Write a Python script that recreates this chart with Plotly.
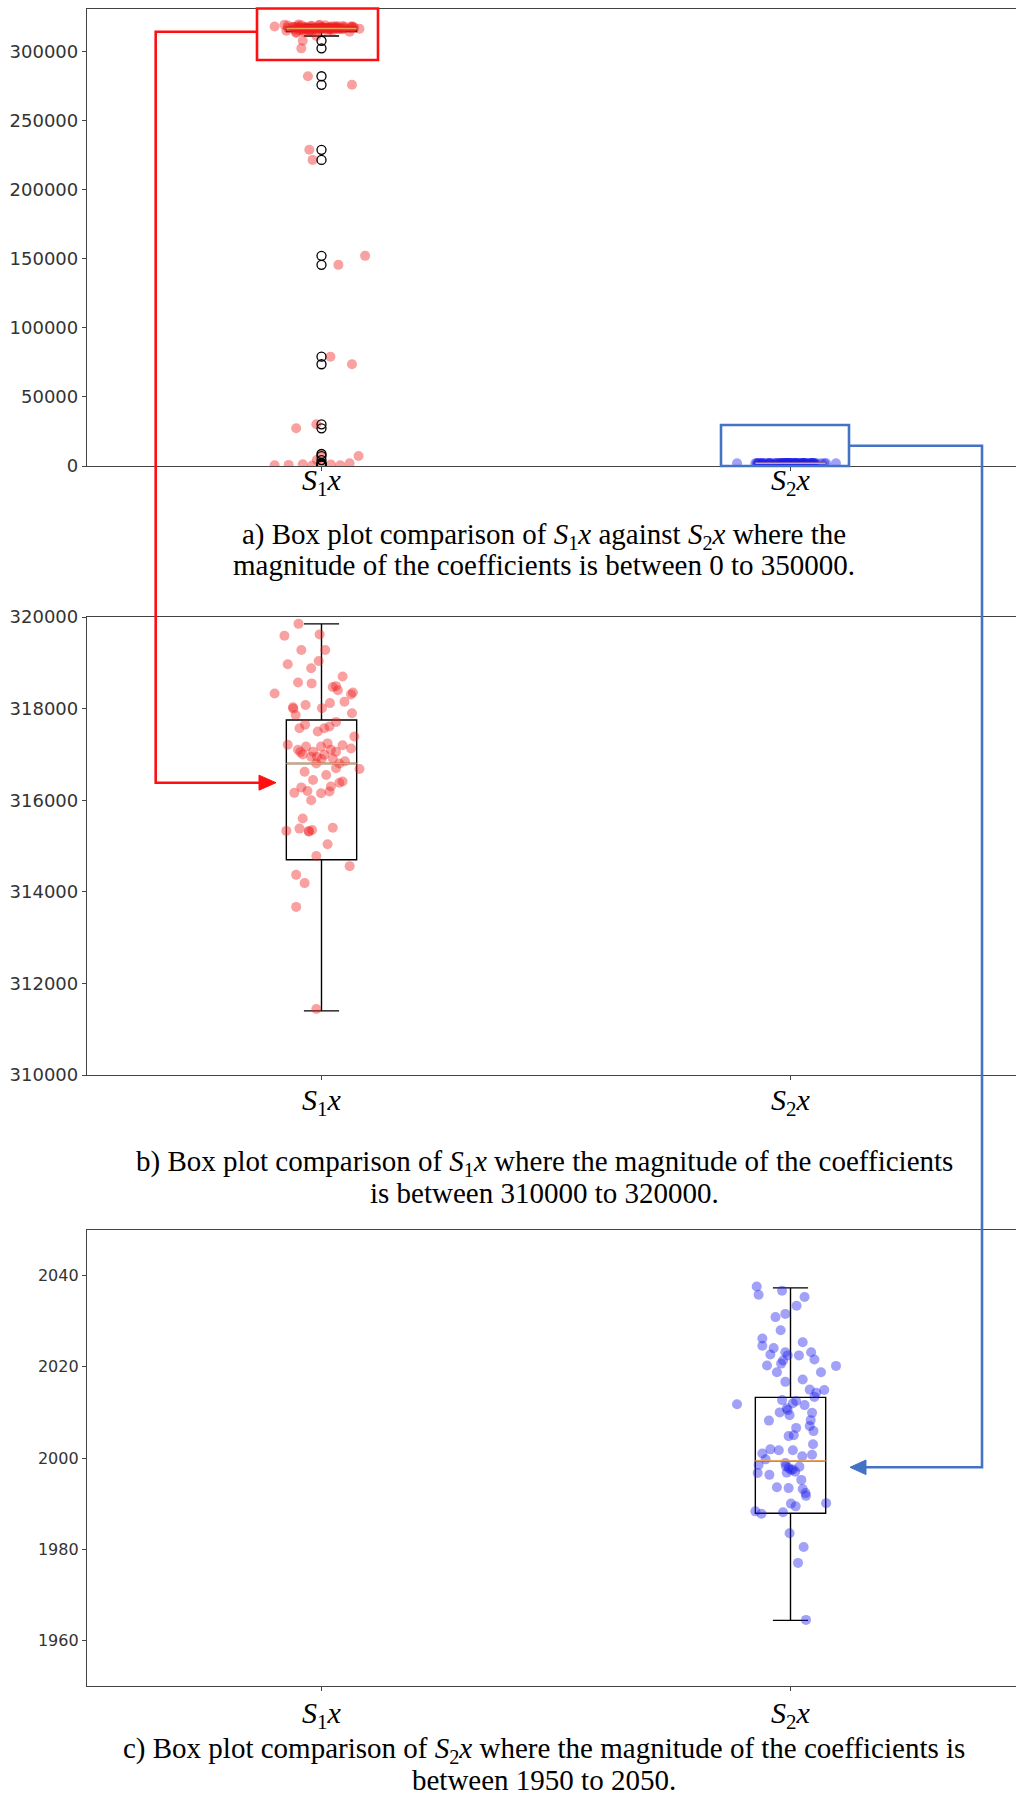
import plotly.graph_objects as go

W, H = 1016, 1805

# ---------------- data ----------------
categories = ["S1x", "S2x"]
positions = [1, 2]
tick_labels = ["<i>S</i><sub>1</sub><i>x</i>", "<i>S</i><sub>2</sub><i>x</i>"]

# S1x coefficients inside the 310000-320000 band
s1_core_values = [319850, 319590, 319620, 319280, 319280, 318970, 319040, 318880, 318330, 318570,
                  318550, 318700, 318470, 318490, 318310, 318350, 318010, 318120, 318150, 318030,
                  318080, 317860, 317900, 317710, 317570, 317500, 317570, 317610, 317390, 317210,
                  317100, 317170, 317060, 317170, 317240, 317060, 317130, 316950, 316990, 316910,
                  316800, 316800, 316620, 316440, 316550, 316700, 316680, 316280, 316160, 316000,
                  316150, 316190, 316380, 316410, 315600, 315330, 315380, 315310, 315400, 315040,
                  314780, 314560, 314370, 314190, 313670, 311440,
                  317000, 316900, 317100, 316950, 317200, 316300, 316200, 315350, 317650, 318000,
                  318400, 316850, 317050, 315330]
s1_core_jitter = [-0.049, -0.079, -0.004, -0.043, 0.008, -0.072, -0.006, -0.022, -0.100, -0.050,
                  -0.021, 0.045, 0.024, 0.031, 0.063, 0.067, 0.001, 0.018, 0.049, -0.061,
                  -0.034, -0.055, 0.065, 0.031, -0.047, -0.008, 0.006, 0.017, 0.070, -0.072,
                  -0.050, -0.033, -0.018, -0.001, 0.013, 0.031, 0.063, -0.022, 0.006, 0.024,
                  0.038, -0.011, -0.036, -0.018, 0.010, 0.031, 0.081, -0.043, -0.058, -0.022,
                  -0.001, 0.017, 0.038, 0.045, -0.040, -0.075, -0.047, -0.027, 0.024, 0.013,
                  -0.011, 0.060, -0.054, -0.036, -0.054, -0.011,
                  -0.040, 0.000, 0.020, -0.010, 0.045, 0.020, -0.030, -0.020, -0.035, -0.060,
                  0.035, 0.050, -0.045, -0.027]

# S1x coefficients far below the box (drawn as fliers)
s1_outlier_values = [308000, 302500, 282300, 276100, 229000, 221700, 152200, 145700, 79200, 73700,
                     30200, 27300, 8700, 7200, 4300, 2000, 1500, 1200, 1000, 800, 600, 500, 300]
s1_outlier_jitter = [-0.040, -0.043, -0.029, 0.065, -0.026, -0.019, 0.093, 0.036, 0.019, 0.065,
                     -0.011, -0.054, 0.000, 0.079, -0.010, 0.060, 0.000, -0.040, 0.020, -0.070,
                     0.040, -0.100, -0.020]

# S2x coefficients
s2_values = [2037.6, 2035.8, 2036.7, 2035.3, 2033.4, 2030.9, 2031.6, 2028.0, 2026.2, 2024.6,
             2024.1, 2022.7, 2023.2, 2022.5, 2022.5, 2025.4, 2023.2, 2021.6, 2020.2, 2020.3,
             2020.7, 2018.8, 2018.8, 2016.7, 2017.2, 2015.0, 2014.3, 2014.9, 2013.4, 2011.8,
             2012.7, 2012.5, 2010.9, 2010.0, 2009.4, 2011.6, 2009.9, 2008.2, 2008.3, 2007.0,
             2006.6, 2005.9, 2004.8, 2005.0, 2003.0, 2001.0, 2001.9, 2001.7, 2001.7, 2000.4,
             2000.7, 1998.5, 1999.7, 1998.9, 1997.8, 1997.4, 1996.8, 1998.1, 1996.7, 1996.3,
             1995.2, 1993.6, 1993.4, 1993.2, 1992.3, 1991.7, 1990.1, 1990.0, 1989.4, 1988.3,
             1987.8, 1988.1, 1983.5, 1980.5, 1977.0, 1964.5,
             1997.5, 1998.2, 2012.0, 2021.4, 2010.5, 1997.0]
s2_jitter = [-0.072, -0.068, -0.018, 0.030, 0.013, -0.032, -0.011, -0.021, -0.060, -0.060,
             -0.036, -0.043, -0.011, -0.006, 0.018, 0.026, 0.044, 0.051, 0.097, -0.050,
             -0.020, -0.029, 0.065, -0.011, 0.026, 0.041, 0.055, 0.072, 0.051, -0.114,
             -0.018, 0.012, -0.008, -0.023, -0.002, 0.030, 0.046, -0.046, 0.043, 0.041,
             0.012, 0.049, -0.004, 0.007, 0.048, -0.060, -0.043, -0.025, 0.005, 0.025,
             0.046, -0.068, -0.053, -0.011, -0.004, 0.001, -0.008, 0.019, -0.070, -0.045,
             0.023, -0.029, -0.004, 0.026, 0.032, 0.033, 0.076, 0.001, 0.011, -0.075,
             -0.062, -0.016, -0.002, 0.028, 0.016, 0.033,
             0.005, -0.010, 0.005, -0.016, -0.006, 0.010]

# box statistics [S1x, S2x]
box_q1 = [314700, 1987.9]
box_median = [316800, 1999.4]
box_q3 = [317750, 2013.3]
box_lower = [311400, 1964.4]
box_upper = [319850, 2037.3]

captions = [
    ["a) Box plot comparison of <i>S</i><sub>1</sub><i>x</i> against <i>S</i><sub>2</sub><i>x</i> where the",
     "magnitude of the coefficients is between 0 to 350000."],
    ["b) Box plot comparison of <i>S</i><sub>1</sub><i>x</i> where the magnitude of the coefficients",
     "is between 310000 to 320000."],
    ["c) Box plot comparison of <i>S</i><sub>2</sub><i>x</i> where the magnitude of the coefficients is",
     "between 1950 to 2050."],
]

# ---------------- layout helpers ----------------
BOX_W = 0.15
AX_COLOR = "#444444"
RED_PT = "rgba(240,30,30,0.42)"
BLUE_PT = "rgba(30,30,235,0.42)"
MED_COLOR = "#e9a25a"

def py(y):  # pixel row -> paper y
    return 1 - y / H

def px(x):
    return x / W

panels = [
    dict(top=9, bottom=466, yr=[0, 331000], ticks=list(range(0, 300001, 50000)), fs=18,
         show=[True, True], cap_y=[536, 565], standoff=-17),
    dict(top=617, bottom=1075, yr=[310000, 320000], ticks=list(range(310000, 320001, 2000)), fs=18,
         show=[True, False], cap_y=[1163, 1193], standoff=-6),
    dict(top=1230, bottom=1686, yr=[1950, 2050], ticks=list(range(1960, 2041, 20)), fs=16,
         show=[False, True], cap_y=[1750, 1780], standoff=-4),
]

fig = go.Figure()
s1_all = s1_core_values + s1_outlier_values
s1_all_jit = s1_core_jitter + s1_outlier_jitter

for i, p in enumerate(panels):
    xa = "x" if i == 0 else f"x{i+1}"
    ya = "y" if i == 0 else f"y{i+1}"
    for k in range(2):
        if not p["show"][k]:
            continue
        fig.add_trace(go.Box(
            x=[positions[k]], q1=[box_q1[k]], median=[box_median[k]], q3=[box_q3[k]],
            lowerfence=[box_lower[k]], upperfence=[box_upper[k]],
            width=BOX_W, whiskerwidth=0.5, boxpoints=False,
            line=dict(color="black", width=1.4), fillcolor="rgba(0,0,0,0)",
            xaxis=xa, yaxis=ya, showlegend=False, hoverinfo="skip"))
    for k in range(2):
        if not p["show"][k]:
            continue
        if k == 0:
            vals, jit, col = s1_all, s1_all_jit, RED_PT
        else:
            vals, jit, col = s2_values, s2_jitter, BLUE_PT
        fig.add_trace(go.Scatter(
            x=[positions[k] + j for j in jit], y=vals, mode="markers",
            marker=dict(size=10, color=col, line=dict(width=0)),
            xaxis=xa, yaxis=ya, showlegend=False, hoverinfo="skip"))
        fig.add_trace(go.Scatter(
            x=[positions[k] - BOX_W / 2, positions[k] + BOX_W / 2],
            y=[box_median[k], box_median[k]], mode="lines",
            line=dict(color=MED_COLOR, width=1.5),
            xaxis=xa, yaxis=ya, showlegend=False, hoverinfo="skip"))
        if k == 0 and i == 0:
            fig.add_trace(go.Scatter(
                x=[positions[0]] * len(s1_outlier_values), y=s1_outlier_values, mode="markers",
                marker=dict(size=9, symbol="circle-open", color="black", line=dict(width=1.3)),
                xaxis=xa, yaxis=ya, showlegend=False, hoverinfo="skip"))

layout = dict(width=W, height=H, margin=dict(l=0, r=0, t=0, b=0, autoexpand=False),
              paper_bgcolor="white", plot_bgcolor="white", showlegend=False)

x_range = [0.5, 0.5 + (W - 87) / 469.0]
for i, p in enumerate(panels):
    xk = "xaxis" if i == 0 else f"xaxis{i+1}"
    yk = "yaxis" if i == 0 else f"yaxis{i+1}"
    ya = "y" if i == 0 else f"y{i+1}"
    xa = "x" if i == 0 else f"x{i+1}"
    layout[xk] = dict(domain=[px(87), 1], range=x_range, anchor=ya, automargin=False,
                      tickvals=positions, ticktext=tick_labels,
                      tickfont=dict(family="Liberation Serif", size=30, color="black"),
                      ticklabelstandoff=p["standoff"],
                      showline=True, mirror=True, linecolor=AX_COLOR, linewidth=1.3,
                      ticks="outside", ticklen=4, tickcolor=AX_COLOR,
                      showgrid=False, zeroline=False, fixedrange=True)
    layout[yk] = dict(domain=[py(p["bottom"]), py(p["top"])], range=p["yr"], anchor=xa,
                      automargin=False,
                      tickvals=p["ticks"], tickformat="d",
                      tickfont=dict(family="DejaVu Sans", size=p["fs"], color="#333333"),
                      showline=True, mirror=False, linecolor=AX_COLOR, linewidth=1.3,
                      ticks="outside", ticklen=4, tickcolor=AX_COLOR,
                      showgrid=False, zeroline=False, fixedrange=True)

annotations = []
for i, p in enumerate(panels):
    for line, yy in zip(captions[i], p["cap_y"]):
        annotations.append(dict(text=line, xref="paper", yref="paper", x=px(544), y=py(yy),
                                xanchor="center", yanchor="middle", showarrow=False,
                                font=dict(family="Liberation Serif", size=29, color="black")))
layout["annotations"] = annotations

RED = "#ff1010"
BLUE = "#4472c4"

def path(points, close=False):
    s = "M " + " L ".join(f"{px(x):.5f},{py(y):.5f}" for x, y in points)
    return s + (" Z" if close else "")

shapes = [
    dict(type="rect", xref="paper", yref="paper", x0=px(257), x1=px(378), y0=py(60), y1=py(8.5),
         line=dict(color=RED, width=2.6)),
    dict(type="path", xref="paper", yref="paper",
         path=path([(257, 31.7), (155.7, 31.7), (155.7, 782.7), (262, 782.7)]),
         line=dict(color=RED, width=2.6)),
    dict(type="path", xref="paper", yref="paper",
         path=path([(276, 782.7), (259, 775.2), (259, 790.2)], close=True),
         fillcolor=RED, line=dict(color=RED, width=1)),
    dict(type="rect", xref="paper", yref="paper", x0=px(721), x1=px(849), y0=py(466), y1=py(425),
         line=dict(color=BLUE, width=2.6)),
    dict(type="path", xref="paper", yref="paper",
         path=path([(849, 445.7), (982, 445.7), (982, 1467.3), (863, 1467.3)]),
         line=dict(color=BLUE, width=2.6)),
    dict(type="path", xref="paper", yref="paper",
         path=path([(850, 1467.3), (866, 1460), (866, 1474.6)], close=True),
         fillcolor=BLUE, line=dict(color=BLUE, width=1)),
]
layout["shapes"] = shapes

fig.update_layout(**layout)
fig.write_html("out.html")
